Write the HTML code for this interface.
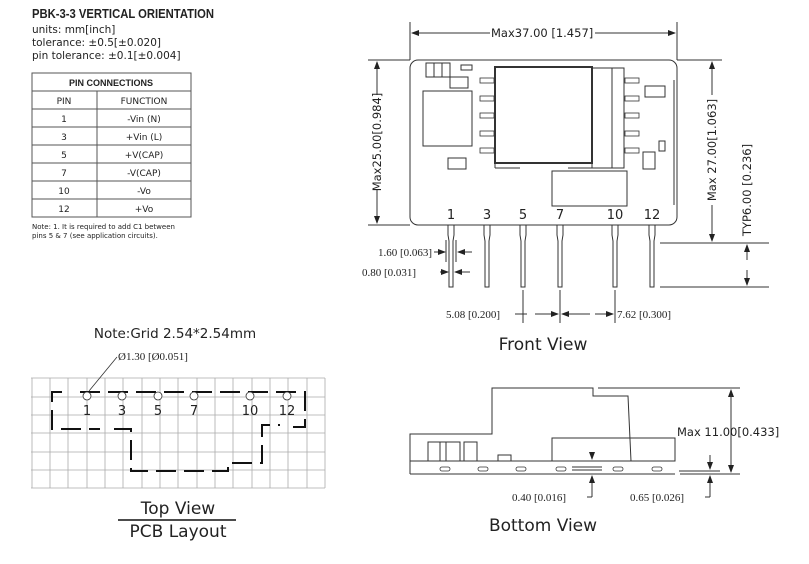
<!DOCTYPE html>
<html><head><style>
body{margin:0;background:#fff;}
svg text{font-family:"DejaVu Sans",sans-serif;fill:#222;}
</style></head><body>
<svg width="809" height="559" viewBox="0 0 809 559" xmlns="http://www.w3.org/2000/svg">
<defs>
<marker id="a" markerWidth="8" markerHeight="6" refX="7" refY="3" orient="auto"><path d="M0,0 L8,3 L0,6z" fill="#222"/></marker>
</defs>
<!-- Left text -->
<text x="32" y="18" font-size="12.5" font-weight="bold" textLength="182" lengthAdjust="spacingAndGlyphs" style="font-family:'Liberation Sans',sans-serif">PBK-3-3 VERTICAL ORIENTATION</text>
<text x="32" y="33" font-size="10.5">units: mm[inch]</text>
<text x="32" y="46" font-size="10.5">tolerance: ±0.5[±0.020]</text>
<text x="32" y="59" font-size="10.5">pin tolerance: ±0.1[±0.004]</text>
<g stroke="#555" stroke-width="1" fill="none">
<rect x="32" y="73" width="159" height="144"/>
<line x1="32" y1="91" x2="191" y2="91"/>
<line x1="32" y1="109" x2="191" y2="109"/>
<line x1="32" y1="127" x2="191" y2="127"/>
<line x1="32" y1="145" x2="191" y2="145"/>
<line x1="32" y1="163" x2="191" y2="163"/>
<line x1="32" y1="181" x2="191" y2="181"/>
<line x1="32" y1="199" x2="191" y2="199"/>
<line x1="97" y1="91" x2="97" y2="217"/>
</g>
<g font-size="9" text-anchor="middle">
<text x="111" y="86" font-weight="bold" font-size="9" style="font-family:'Liberation Sans',sans-serif">PIN CONNECTIONS</text>
<text x="64" y="104">PIN</text><text x="144" y="104">FUNCTION</text>
<text x="64" y="122">1</text><text x="144" y="122">-Vin (N)</text>
<text x="64" y="140">3</text><text x="144" y="140">+Vin (L)</text>
<text x="64" y="158">5</text><text x="144" y="158">+V(CAP)</text>
<text x="64" y="176">7</text><text x="144" y="176">-V(CAP)</text>
<text x="64" y="194">10</text><text x="144" y="194">-Vo</text>
<text x="64" y="212">12</text><text x="144" y="212">+Vo</text>
</g>
<text x="32" y="229" font-size="7">Note: 1. It is required to add C1 between</text>
<text x="32" y="238" font-size="7">pins 5 &amp; 7 (see application circuits).</text>

<!-- Front view -->
<g stroke="#333" stroke-width="1" fill="none">
<rect x="410" y="60" width="267" height="165" rx="8"/>
<line x1="410" y1="22" x2="410" y2="60"/><line x1="677" y1="22" x2="677" y2="60"/>
<line x1="490" y1="33" x2="412" y2="33" marker-end="url(#a)"/>
<line x1="595" y1="33" x2="675" y2="33" marker-end="url(#a)"/>
<line x1="368" y1="60" x2="410" y2="60"/><line x1="368" y1="225" x2="410" y2="225"/>
<line x1="677" y1="60" x2="722" y2="60"/>
<line x1="377" y1="95" x2="377" y2="62" marker-end="url(#a)"/>
<line x1="377" y1="190" x2="377" y2="223" marker-end="url(#a)"/>
<line x1="712" y1="95" x2="712" y2="62" marker-end="url(#a)"/>
<line x1="712" y1="205" x2="712" y2="241" marker-end="url(#a)"/>
<line x1="660" y1="243" x2="769" y2="243"/><line x1="660" y1="287" x2="769" y2="287"/>
<line x1="747" y1="260" x2="747" y2="245" marker-end="url(#a)"/>
<line x1="747" y1="270" x2="747" y2="285" marker-end="url(#a)"/>
<rect x="495" y="67" width="97" height="96" stroke-width="2"/>
<rect x="592" y="68" width="32" height="100"/>
<line x1="612" y1="68" x2="612" y2="168"/>
<line x1="495" y1="163" x2="495" y2="168"/><line x1="495" y1="168" x2="520" y2="168"/>
<line x1="568" y1="168" x2="592" y2="168"/>
<rect x="552" y="171" width="75" height="35"/>
<rect x="423" y="91" width="49" height="55"/>
<rect x="426" y="63" width="24" height="14"/><line x1="434" y1="63" x2="434" y2="77"/><line x1="442" y1="63" x2="442" y2="77"/>
<rect x="461" y="65" width="11" height="5"/>
<rect x="450" y="77" width="18" height="11"/>
<rect x="448" y="158" width="18" height="11"/>
<rect x="645" y="86" width="20" height="11"/>
<rect x="643" y="152" width="12" height="17"/>
<rect x="659" y="141" width="6" height="10"/>
<line x1="674" y1="80" x2="674" y2="205"/>
</g>
<g fill="none" stroke="#333" stroke-width="0.8">
<rect x="480" y="78" width="14" height="5"/><rect x="480" y="96" width="14" height="5"/><rect x="480" y="113" width="14" height="5"/><rect x="480" y="131" width="14" height="5"/><rect x="480" y="148" width="14" height="5"/>
<rect x="625" y="78" width="14" height="5"/><rect x="625" y="96" width="14" height="5"/><rect x="625" y="113" width="14" height="5"/><rect x="625" y="131" width="14" height="5"/><rect x="625" y="148" width="14" height="5"/>
</g>
<g stroke="#333" stroke-width="1" fill="#fff">
<path d="M448,225 v10 l1,6 v46 h4 v-46 l1,-6 v-10z"/>
<path d="M484,225 v10 l1,6 v46 h4 v-46 l1,-6 v-10z"/>
<path d="M520,225 v10 l1,6 v46 h4 v-46 l1,-6 v-10z"/>
<path d="M557,225 v10 l1,6 v46 h4 v-46 l1,-6 v-10z"/>
<path d="M612,225 v10 l1,6 v46 h4 v-46 l1,-6 v-10z"/>
<path d="M649,225 v10 l1,6 v46 h4 v-46 l1,-6 v-10z"/>
</g>
<g font-size="13" text-anchor="middle">
<text x="451" y="219">1</text><text x="487" y="219">3</text><text x="523" y="219">5</text><text x="560" y="219">7</text><text x="615" y="219">10</text><text x="652" y="219">12</text>
</g>
<g stroke="#333" stroke-width="1" fill="none">
<line x1="434" y1="252" x2="445" y2="252" marker-end="url(#a)"/><line x1="472" y1="252" x2="458" y2="252" marker-end="url(#a)"/>
<line x1="440" y1="272" x2="448" y2="272" marker-end="url(#a)"/><line x1="470" y1="272" x2="455" y2="272" marker-end="url(#a)"/>
<line x1="446" y1="240" x2="446" y2="262"/><line x1="456" y1="240" x2="456" y2="262"/>
<line x1="523" y1="290" x2="523" y2="323"/><line x1="560" y1="290" x2="560" y2="323"/><line x1="615" y1="290" x2="615" y2="323"/>
<line x1="515" y1="314" x2="527" y2="314"/><line x1="535" y1="314" x2="558" y2="314" marker-end="url(#a)"/>
<line x1="590" y1="314" x2="562" y2="314" marker-end="url(#a)"/><line x1="595" y1="314" x2="613" y2="314" marker-end="url(#a)"/>
</g>
<text x="491" y="37" font-size="11.5">Max37.00 [1.457]</text>
<g font-size="11">
<text x="378" y="256" style="font-family:'Liberation Serif',serif">1.60 [0.063]</text>
<text x="362" y="276" style="font-family:'Liberation Serif',serif">0.80 [0.031]</text>
<text x="446" y="318" style="font-family:'Liberation Serif',serif">5.08 [0.200]</text>
<text x="617" y="318" style="font-family:'Liberation Serif',serif">7.62 [0.300]</text>
</g>
<text transform="translate(381,142) rotate(-90)" font-size="11.5" text-anchor="middle">Max25.00[0.984]</text>
<text transform="translate(716,150) rotate(-90)" font-size="11.5" text-anchor="middle">Max 27.00[1.063]</text>
<text transform="translate(751,190) rotate(-90)" font-size="11.5" text-anchor="middle">TYP6.00 [0.236]</text>
<text x="543" y="350" font-size="17" text-anchor="middle">Front View</text>

<!-- Bottom view -->
<g stroke="#333" stroke-width="1" fill="none">
<line x1="410" y1="461" x2="675" y2="461"/>
<line x1="410" y1="474" x2="675" y2="474"/>
<polyline points="410,474 410,434 492,434 492,388 593,388 593,396 628,396 631,461"/>
<line x1="598" y1="388" x2="740" y2="388"/>
<rect x="552" y="438" width="123" height="23"/>
<rect x="428" y="442" width="32" height="19"/><line x1="440" y1="442" x2="440" y2="461"/><line x1="446" y1="442" x2="446" y2="461"/>
<rect x="464" y="442" width="13" height="19"/>
<rect x="498" y="455" width="13" height="6"/>
<line x1="731" y1="395" x2="731" y2="390" marker-end="url(#a)"/>
<line x1="731" y1="395" x2="731" y2="472" marker-end="url(#a)"/>
<line x1="680" y1="474" x2="740" y2="474"/>
<line x1="679" y1="471" x2="720" y2="471"/>
<line x1="710" y1="455" x2="710" y2="469" marker-end="url(#a)"/>
<line x1="710" y1="490" x2="710" y2="476" marker-end="url(#a)"/>
<line x1="710" y1="490" x2="710" y2="497"/><line x1="705" y1="497" x2="710" y2="497"/>
<line x1="592" y1="452" x2="592" y2="459" marker-end="url(#a)"/>
<line x1="592" y1="487" x2="592" y2="476" marker-end="url(#a)"/>
<line x1="592" y1="487" x2="592" y2="497"/><line x1="587" y1="497" x2="592" y2="497"/>
<line x1="572" y1="467" x2="602" y2="467"/><line x1="572" y1="470" x2="602" y2="470"/>
</g>
<g fill="none" stroke="#333" stroke-width="0.8">
<rect x="440" y="467" width="10" height="4" rx="2"/><rect x="478" y="467" width="10" height="4" rx="2"/><rect x="516" y="467" width="10" height="4" rx="2"/><rect x="556" y="467" width="10" height="4" rx="2"/><rect x="613" y="467" width="10" height="4" rx="2"/><rect x="652" y="467" width="10" height="4" rx="2"/>
</g>
<text x="677" y="436" font-size="11.5">Max 11.00[0.433]</text>
<text x="512" y="501" font-size="11" style="font-family:'Liberation Serif',serif">0.40 [0.016]</text>
<text x="630" y="501" font-size="11" style="font-family:'Liberation Serif',serif">0.65 [0.026]</text>
<text x="543" y="531" font-size="17" text-anchor="middle">Bottom View</text>

<!-- Top view PCB -->
<g stroke="#aaa" stroke-width="0.8">
<line x1="31" y1="378" x2="325" y2="378"/><line x1="31" y1="397" x2="325" y2="397"/><line x1="31" y1="415" x2="325" y2="415"/><line x1="31" y1="433" x2="325" y2="433"/><line x1="31" y1="452" x2="325" y2="452"/><line x1="31" y1="470" x2="325" y2="470"/><line x1="31" y1="488" x2="325" y2="488"/>
<line x1="32" y1="378" x2="32" y2="488"/><line x1="50" y1="378" x2="50" y2="488"/><line x1="68" y1="378" x2="68" y2="488"/><line x1="87" y1="378" x2="87" y2="488"/><line x1="105" y1="378" x2="105" y2="488"/><line x1="123" y1="378" x2="123" y2="488"/><line x1="142" y1="378" x2="142" y2="488"/><line x1="160" y1="378" x2="160" y2="488"/><line x1="178" y1="378" x2="178" y2="488"/><line x1="197" y1="378" x2="197" y2="488"/><line x1="215" y1="378" x2="215" y2="488"/><line x1="233" y1="378" x2="233" y2="488"/><line x1="252" y1="378" x2="252" y2="488"/><line x1="270" y1="378" x2="270" y2="488"/><line x1="288" y1="378" x2="288" y2="488"/><line x1="307" y1="378" x2="307" y2="488"/><line x1="325" y1="378" x2="325" y2="488"/>
</g>
<g stroke="#111" stroke-width="2" fill="none" stroke-dasharray="20,8">
<polyline points="62,392 52,392 52,429 100,429"/>
<polyline points="80,392 305,392 305,427 290,427"/>
<polyline points="114,429 131,429 131,471 228,471 228,463 262,463 262,425 280,425"/>
</g>
<g fill="#fff" stroke="#333" stroke-width="0.8">
<circle cx="87" cy="396" r="4"/><circle cx="122" cy="396" r="4"/><circle cx="158" cy="396" r="4"/><circle cx="194" cy="396" r="4"/><circle cx="250" cy="396" r="4"/><circle cx="287" cy="396" r="4"/>
</g>
<g font-size="13" text-anchor="middle">
<text x="87" y="415">1</text><text x="122" y="415">3</text><text x="158" y="415">5</text><text x="194" y="415">7</text><text x="250" y="415">10</text><text x="287" y="415">12</text>
</g>
<line x1="117" y1="357" x2="89" y2="391" stroke="#333" stroke-width="0.8"/>
<text x="118" y="360" font-size="11" style="font-family:'Liberation Serif',serif">Ø1.30 [Ø0.051]</text>
<text x="175" y="338" font-size="13.5" text-anchor="middle">Note:Grid 2.54*2.54mm</text>
<text x="178" y="514" font-size="17" text-anchor="middle">Top View</text>
<line x1="118" y1="520" x2="236" y2="520" stroke="#111" stroke-width="1.5"/>
<text x="178" y="537" font-size="17" text-anchor="middle">PCB Layout</text>
</svg>
</body></html>
